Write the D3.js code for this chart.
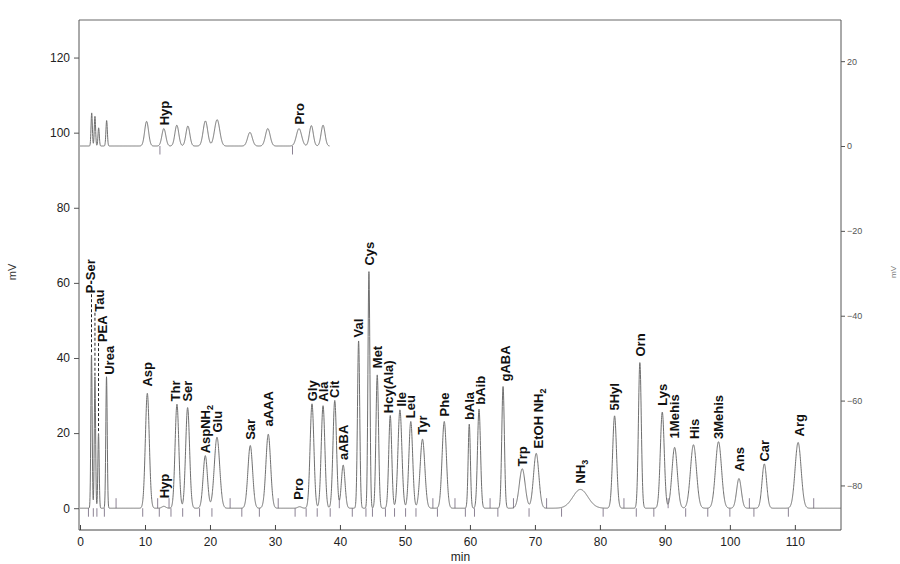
<!DOCTYPE html>
<html><head><meta charset="utf-8">
<script src="https://cdn.jsdelivr.net/npm/d3@7"></script>
<style>body{margin:0;background:#fff}svg{display:block}</style>
</head><body><svg id="c" width="900" height="564"></svg>
<script>
// ---------------- DATA ----------------
const peakNames   = ["P-Ser","Tau","PEA","Urea","Asp","Hyp","Thr","Ser","AspNH2","Glu","Sar","aAAA","Pro","Gly","Ala","Cit","aABA","Val","Cys","Met","Hcy(Ala)","Ile","Leu","Tyr","Phe","bAla","bAib","gABA","Trp","EtOH NH2","NH3","5Hyl","Orn","Lys","1Mehis","His","3Mehis","Ans","Car","Arg"];
const peakTimes   = [1.77,2.3,2.85,4.08,10.36,12.9,14.92,16.56,19.28,21.08,26.2,28.97,33.8,35.7,37.4,39.2,40.5,42.87,44.46,45.74,47.74,49.23,50.9,52.7,56.05,59.9,61.4,65.1,68.05,70.2,77.0,82.26,86.15,89.6,91.5,94.4,98.25,101.4,105.3,110.5];
const peakHeights = [41,35,20,35,30.6,0.5,27.7,26.8,14.0,18.9,16.7,19.7,0.4,27.8,27.3,28.7,11.5,44.6,63.0,35.5,24.7,26.2,23.1,18.4,23.1,22.4,26.4,32.4,10.5,14.6,5.0,24.6,38.8,25.6,16.2,16.9,17.7,7.9,11.8,17.5];
const peakWidths  = [0.1,0.1,0.1,0.11,0.3,0.3,0.29,0.3,0.33,0.41,0.36,0.36,0.3,0.29,0.28,0.27,0.28,0.17,0.15,0.2,0.23,0.3,0.29,0.36,0.33,0.17,0.23,0.2,0.45,0.41,1.15,0.3,0.22,0.3,0.41,0.46,0.46,0.36,0.35,0.46];

const insetNames   = ["","","","","","Hyp","","","","","","","Pro","",""];
const insetTimes   = [1.8,2.3,2.87,4.1,10.25,12.9,14.9,16.6,19.3,21.1,26.15,28.9,33.7,35.6,37.4];
const insetHeights = [7.8,7.0,4.3,6.0,5.8,4.1,4.9,4.7,5.9,6.2,3.2,4.1,4.1,4.8,4.9];
const insetWidths  = [0.1,0.1,0.1,0.11,0.3,0.3,0.3,0.3,0.35,0.4,0.36,0.36,0.4,0.3,0.3];

const markDown = [1.3,2.05,2.6,3.75,9.65,12.2,14.0,15.8,18.4,20.3,24.9,27.6,33.1,34.8,36.5,38.5,41.9,44.0,45.0,47.0,48.4,50.1,51.7,55.0,59.3,60.7,64.3,69.1,74.1,80.5,85.6,88.3,93.2,96.6,100.0,103.7,109.0];
const markUp   = [5.55,11.95,13.7,23.1,30.5,39.9,54.3,57.7,63.1,66.7,71.8,83.7,90.5,103.0,112.9];
const insetMarks = [12.3,32.7];

const xTicks      = [0,10,20,30,40,50,60,70,80,90,100,110];
const yLeftTicks  = [0,20,40,60,80,100,120];
const yRightTicks = [-80,-60,-40,-20,0,20];

// ---------------- LAYOUT ----------------
const svg = d3.select("#c");
const L = 80, R = 841, T = 20, B = 530;
const x  = d3.scaleLinear().domain([0, 117.1]).range([L, R]);
const yL = d3.scaleLinear().domain([-5.8, 130]).range([B, T]);
const yR = d3.scaleLinear().domain([-90.5, 29.7]).range([B, T]);

const labelFont = "'Liberation Sans', Arial, Helvetica, sans-serif";
// label nudges: [dx px, lift px above peak top]
const nudge = {
  "P-Ser":[-1.5,61],"Tau":[4.5,65],"PEA":[3.5,91],"Urea":[2.5,2],
  "Asp":[0,6.7],"Hyp":[0,8],"Thr":[-2,2.7],"Ser":[0,6],"AspNH2":[0,2.3],"Glu":[0,4.7],
  "Sar":[0,5.7],"aAAA":[0,7.7],"Pro":[-1.7,7],"Gly":[0,2.5],"Ala":[0,4],"Cit":[0,2.5],
  "aABA":[0,5],"Val":[0,3.3],"Cys":[0,6],"Met":[0,6.7],"Hcy(Ala)":[-2,2.3],"Ile":[1.7,3.3],
  "Leu":[0,3.3],"Tyr":[0,4.3],"Phe":[0,5],"bAla":[0,4],"bAib":[1.7,4.3],"gABA":[2.3,5],
  "Trp":[0,2.3],"EtOH NH2":[2,5],"NH3":[0,6],"5Hyl":[0,5.3],"Orn":[0,6],"Lys":[0,6.3],
  "1Mehis":[0,9],"His":[1.3,5.7],"3Mehis":[0,2.7],"Ans":[0,7],"Car":[0,2.3],"Arg":[0.7,6]
};
const leaders = ["P-Ser","Tau","PEA"];

function traceData(times, heights, widths, t0, t1, step) {
  const pts = [];
  for (let t = t0; t <= t1 + 1e-9; t += step) {
    let v = 0;
    for (let i = 0; i < times.length; i++) {
      const d = (t - times[i]) / widths[i];
      if (Math.abs(d) < 8) v += heights[i] * Math.exp(-0.5 * d * d);
    }
    pts.push([t, v]);
  }
  return pts;
}

// ---------------- AXES / FRAME ----------------
svg.append("line").attr("x1", L - 1).attr("x2", R).attr("y1", T).attr("y2", T)
  .attr("stroke", "#9a9a9a").attr("stroke-width", 1.6);

// left axis
const gl = svg.append("g").attr("transform", `translate(${L - 1},0)`);
gl.call(d3.axisLeft(yL).tickValues(d3.range(-4, 130, 2)).tickSize(3).tickFormat(""));
gl.call(d3.axisLeft(yL).tickValues(yLeftTicks).tickSize(5).tickPadding(4).tickFormat(d3.format("d")));
gl.select(".domain").attr("stroke", "#555");
gl.selectAll(".tick line").attr("stroke", "#555");
gl.selectAll("text").attr("font-family", labelFont).attr("font-size", 12).attr("fill", "#222");
gl.selectAll(".domain").attr("d", `M0,${T}V${B}`);

// right axis
const gr = svg.append("g").attr("transform", `translate(${R},0)`);
gr.call(d3.axisRight(yR).tickValues(d3.range(-90, 30, 2)).tickSize(3).tickFormat(""));
gr.call(d3.axisRight(yR).tickValues(yRightTicks).tickSize(4).tickPadding(2).tickFormat(d3.format("d")));
gr.selectAll(".domain").attr("d", `M0,${T}V${B}`).attr("stroke", "#555");
gr.selectAll(".tick line").attr("stroke", "#555");
gr.selectAll("text").attr("font-family", labelFont).attr("font-size", 9).attr("fill", "#555");

// bottom axis (ticks inward)
const gb = svg.append("g").attr("transform", `translate(0,${B})`);
gb.call(d3.axisBottom(x).tickValues(d3.range(0, 118, 1)).tickSizeInner(-3).tickSizeOuter(0).tickFormat(""));
gb.call(d3.axisBottom(x).tickValues(xTicks).tickSizeInner(-5).tickSizeOuter(0).tickPadding(7.5).tickFormat(d3.format("d")));
gb.selectAll(".domain").attr("d", `M${L - 1},0H${R}`).attr("stroke", "#444");
gb.selectAll(".tick line").attr("stroke", "#444");
gb.selectAll("text").attr("font-family", labelFont).attr("font-size", 12).attr("fill", "#222");

// axis titles
svg.append("text").attr("x", (L + R) / 2).attr("y", 561).attr("text-anchor", "middle")
  .attr("font-family", labelFont).attr("font-size", 12).attr("fill", "#222").text("min");
svg.append("text").attr("transform", "translate(16,272) rotate(-90)").attr("text-anchor", "middle")
  .attr("font-family", labelFont).attr("font-size", 11).attr("fill", "#333").text("mV");
svg.append("text").attr("transform", "translate(896,272) rotate(-90)").attr("text-anchor", "middle")
  .attr("font-family", labelFont).attr("font-size", 8).attr("fill", "#777").text("mV");

// ---------------- MARKERS ----------------
const markColor = "#8c8294";
svg.append("g").selectAll("line").data(markDown).join("line")
  .attr("x1", d => x(d)).attr("x2", d => x(d)).attr("y1", yL(0)).attr("y2", yL(0) + 8.5)
  .attr("stroke", markColor).attr("stroke-width", 1);
svg.append("g").selectAll("line").data(markUp).join("line")
  .attr("x1", d => x(d)).attr("x2", d => x(d)).attr("y1", yL(0)).attr("y2", yL(0) - 10)
  .attr("stroke", markColor).attr("stroke-width", 1);
svg.append("g").selectAll("line").data(insetMarks).join("line")
  .attr("x1", d => x(d)).attr("x2", d => x(d)).attr("y1", yR(0)).attr("y2", yR(0) + 8.5)
  .attr("stroke", markColor).attr("stroke-width", 1);

// ---------------- TRACES ----------------
const mainPts = traceData(peakTimes, peakHeights, peakWidths, 0, 117.1, 0.02);
svg.append("path").datum(mainPts)
  .attr("d", d3.line().x(d => x(d[0])).y(d => yL(d[1])))
  .attr("fill", "none").attr("stroke", "#6f6f6f").attr("stroke-width", 1);

const insetPts = traceData(insetTimes, insetHeights, insetWidths, 0, 38.4, 0.02);
svg.append("path").datum(insetPts)
  .attr("d", d3.line().x(d => x(d[0])).y(d => yR(d[1])))
  .attr("fill", "none").attr("stroke", "#6f6f6f").attr("stroke-width", 1);

// ---------------- LABELS ----------------
function addLabel(name, px, py) {
  const t = svg.append("text")
    .attr("transform", `translate(${px},${py}) rotate(-90)`)
    .attr("font-family", labelFont).attr("font-weight", "bold").attr("font-size", 13)
    .attr("fill", "#111").attr("text-anchor", "start");
  const m = name.match(/^(.*?)(\d)$/);
  if (m && /NH$/.test(m[1])) {
    t.append("tspan").text(m[1]);
    t.append("tspan").attr("font-size", 9).attr("dy", 3).text(m[2]);
  } else {
    t.text(name);
  }
}

peakNames.forEach((n, i) => {
  const [dx, lift] = nudge[n] || [0, 5];
  const px = x(peakTimes[i]);
  const top = yL(peakHeights[i]);
  addLabel(n, px + dx + 4.7, top - lift);
  if (leaders.includes(n)) {
    svg.append("line").attr("x1", px).attr("x2", px)
      .attr("y1", top - lift + 1).attr("y2", top)
      .attr("stroke", "#222").attr("stroke-width", 1).attr("stroke-dasharray", "3,2");
  }
});

const insetLift = {"Hyp":3.3, "Pro":4};
insetNames.forEach((n, i) => {
  if (!n) return;
  addLabel(n, x(insetTimes[i]) + 4.7, yR(insetHeights[i]) - insetLift[n]);
});
</script>
</body></html>
